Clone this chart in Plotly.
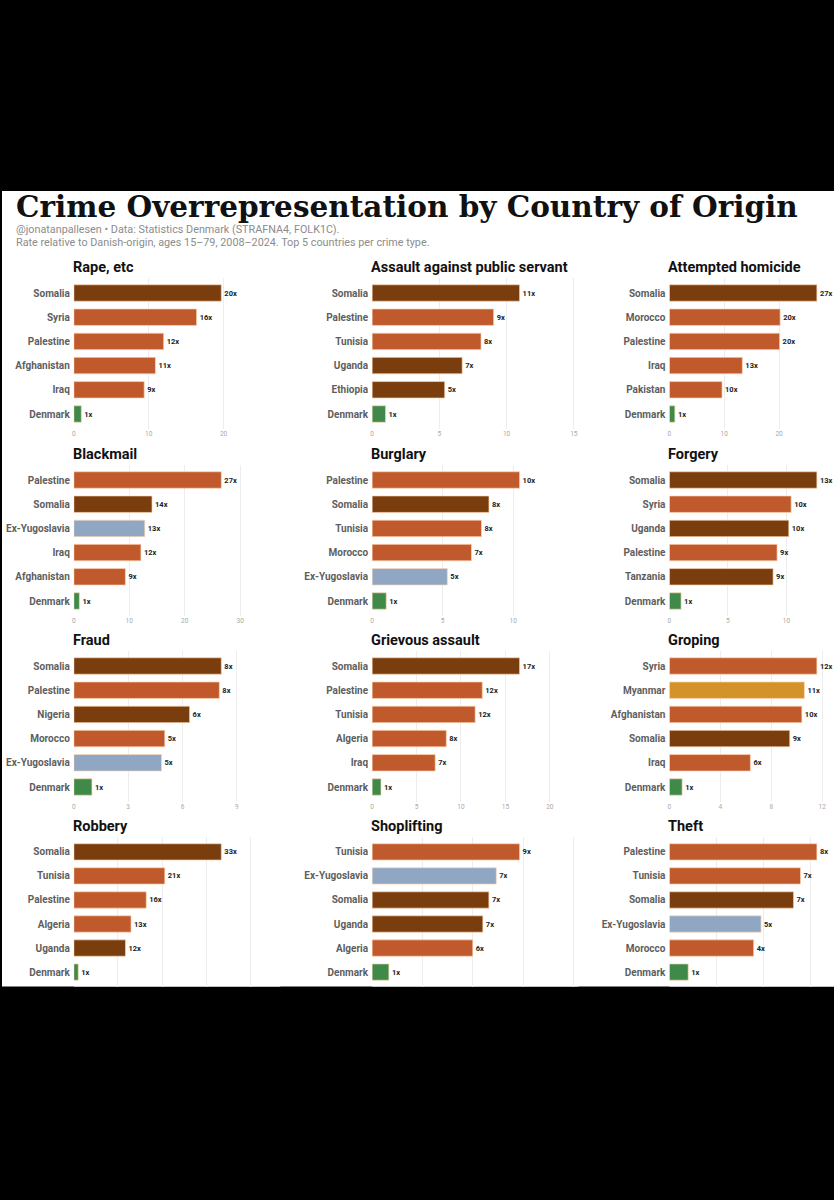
import plotly.graph_objects as go

# ---------------- data ----------------
crime_types = ["Rape, etc", "Assault against public servant", "Attempted homicide",
               "Blackmail", "Burglary", "Forgery",
               "Fraud", "Grievous assault", "Groping",
               "Robbery", "Shoplifting", "Theft"]

countries = [
    ["Somalia", "Syria", "Palestine", "Afghanistan", "Iraq", "Denmark"],
    ["Somalia", "Palestine", "Tunisia", "Uganda", "Ethiopia", "Denmark"],
    ["Somalia", "Morocco", "Palestine", "Iraq", "Pakistan", "Denmark"],
    ["Palestine", "Somalia", "Ex-Yugoslavia", "Iraq", "Afghanistan", "Denmark"],
    ["Palestine", "Somalia", "Tunisia", "Morocco", "Ex-Yugoslavia", "Denmark"],
    ["Somalia", "Syria", "Uganda", "Palestine", "Tanzania", "Denmark"],
    ["Somalia", "Palestine", "Nigeria", "Morocco", "Ex-Yugoslavia", "Denmark"],
    ["Somalia", "Palestine", "Tunisia", "Algeria", "Iraq", "Denmark"],
    ["Syria", "Myanmar", "Afghanistan", "Somalia", "Iraq", "Denmark"],
    ["Somalia", "Tunisia", "Palestine", "Algeria", "Uganda", "Denmark"],
    ["Tunisia", "Ex-Yugoslavia", "Somalia", "Uganda", "Algeria", "Denmark"],
    ["Palestine", "Tunisia", "Somalia", "Ex-Yugoslavia", "Morocco", "Denmark"],
]

rates = [
    [19.7, 16.4, 12.0, 10.9, 9.4, 1.0],
    [10.97, 9.04, 8.1, 6.7, 5.4, 1.0],
    [26.9, 20.2, 20.1, 13.3, 9.6, 1.0],
    [26.6, 14.1, 12.8, 12.1, 9.3, 1.0],
    [10.45, 8.28, 7.75, 7.04, 5.33, 1.0],
    [12.6, 10.4, 10.2, 9.2, 8.86, 1.0],
    [8.14, 8.03, 6.39, 5.02, 4.84, 1.0],
    [16.6, 12.4, 11.6, 8.35, 7.1, 1.0],
    [11.58, 10.6, 10.4, 9.45, 6.36, 1.0],
    [33.4, 20.6, 16.4, 12.95, 11.7, 1.0],
    [8.79, 7.4, 6.96, 6.6, 6.0, 1.0],
    [7.84, 6.97, 6.6, 4.87, 4.48, 1.0],
]

tick_steps = [10, 5, 10, 10, 5, 5, 3, 5, 4, 10, 3, 2.5]

region_of = {
    "Somalia": "ssa", "Uganda": "ssa", "Ethiopia": "ssa", "Nigeria": "ssa", "Tanzania": "ssa",
    "Syria": "mena", "Palestine": "mena", "Afghanistan": "mena", "Iraq": "mena",
    "Tunisia": "mena", "Morocco": "mena", "Algeria": "mena", "Pakistan": "mena",
    "Ex-Yugoslavia": "europe", "Myanmar": "asia", "Denmark": "denmark",
}
region_colors = {"ssa": "#7A3E0E", "mena": "#C05A2C", "europe": "#8FA7C3",
                 "asia": "#D4922B", "denmark": "#3F8A49"}

title = "Crime Overrepresentation by Country of Origin"
subtitle1 = "@jonatanpallesen \u2022 Data: Statistics Denmark (STRAFNA4, FOLK1C)."
subtitle2 = "Rate relative to Danish-origin, ages 15\u201379, 2008\u20132024. Top 5 countries per crime type."

# ---------------- layout geometry (pixels) ----------------
FW, FH = 834, 1200
col_x = [72, 371, 669]
panel_w = 207
first_bar_y = [293, 480, 666, 852]
step = 24.2
expand = 1.4

def fx(x):
    return x / FW

def fy(y):
    return 1 - y / FH

fig = go.Figure()
annotations = []
layout_axes = {}

SANS = "Roboto, Liberation Sans, sans-serif"

for i, crime in enumerate(crime_types):
    r, c = divmod(i, 3)
    n = i + 1
    xa = "x" if n == 1 else f"x{n}"
    ya = "y" if n == 1 else f"y{n}"
    vals = rates[i]
    cats = countries[i]
    vmax = max(vals)
    x0 = col_x[c]
    x1 = x0 + panel_w
    rng_end = vmax * expand
    if x1 > FW:
        rng_end = rng_end * (FW - x0) / panel_w
        x1 = FW
    top = first_bar_y[r] - 0.6 * step
    bot = min(first_bar_y[r] + 5.6 * step, 986.5)

    fig.add_trace(go.Bar(
        x=vals, y=cats, orientation="h",
        xaxis=xa, yaxis=ya,
        width=0.68,
        marker=dict(color=[region_colors[region_of[k]] for k in cats],
                    line=dict(color="rgba(255,214,180,0.85)", width=0.8)),
        text=[f"{round(v)}x" for v in vals],
        textposition="outside",
        textfont=dict(family=SANS, size=7.5, color="#222222", weight="bold"),
        constraintext="none",
        cliponaxis=False,
        hoverinfo="skip",
        showlegend=False,
    ))

    layout_axes["xaxis" if n == 1 else f"xaxis{n}"] = dict(
        domain=[fx(x0), fx(x1)], anchor=ya, range=[0, rng_end],
        dtick=tick_steps[i], tick0=0,
        showgrid=True, gridcolor="#EDEDED", gridwidth=0.8,
        zeroline=False, showline=False, ticks="",
        showticklabels=(r < 3),
        tickfont=dict(family=SANS, size=6.5, color="#A8A8A8"),
        fixedrange=True,
    )
    layout_axes["yaxis" if n == 1 else f"yaxis{n}"] = dict(
        domain=[fy(bot), fy(top)], anchor=xa,
        type="category", categoryorder="array", categoryarray=list(reversed(cats)),
        range=[-0.6, 5.6],
        showgrid=False, zeroline=False, showline=False, ticks="",
        ticklabelstandoff=3,
        tickfont=dict(family=SANS, size=10, color="#5E5E5E", weight="bold"),
        fixedrange=True,
    )
    annotations.append(dict(
        text=crime, x=fx(x0 - 3), y=fy(first_bar_y[r] - 26), xref="paper", yref="paper",
        xanchor="left", yanchor="middle", showarrow=False,
        font=dict(family=SANS, size=14.5, color="#111111", weight="bold"),
    ))

annotations.append(dict(
    text=title, x=fx(12), y=fy(207), xref="paper", yref="paper",
    xanchor="left", yanchor="middle", showarrow=False,
    font=dict(family="DejaVu Serif, Liberation Serif, serif", size=29.5, color="#111111", weight="bold"),
))
annotations.append(dict(
    text=subtitle1, x=fx(12), y=fy(230), xref="paper", yref="paper",
    xanchor="left", yanchor="middle", showarrow=False,
    font=dict(family=SANS, size=10.8, color="#8C8C8C"),
))
annotations.append(dict(
    text=subtitle2, x=fx(12), y=fy(242.5), xref="paper", yref="paper",
    xanchor="left", yanchor="middle", showarrow=False,
    font=dict(family=SANS, size=10.8, color="#8C8C8C"),
))

fig.update_layout(
    width=FW, height=FH,
    margin=dict(l=0, r=0, t=0, b=0),
    paper_bgcolor="#000000",
    plot_bgcolor="#FFFFFF",
    bargap=0.3,
    annotations=annotations,
    shapes=[dict(type="rect", xref="paper", yref="paper",
                 x0=0, x1=1, y0=fy(986.5), y1=fy(191),
                 fillcolor="#FFFFFF", line=dict(width=0), layer="below")],
    **layout_axes,
)

fig.write_html(
    "out.html",
    config={"displayModeBar": False},
    post_script="document.body.style.margin='0';document.body.style.background='#000';"
                "document.documentElement.style.background='#000';document.body.style.overflow='hidden';",
)
